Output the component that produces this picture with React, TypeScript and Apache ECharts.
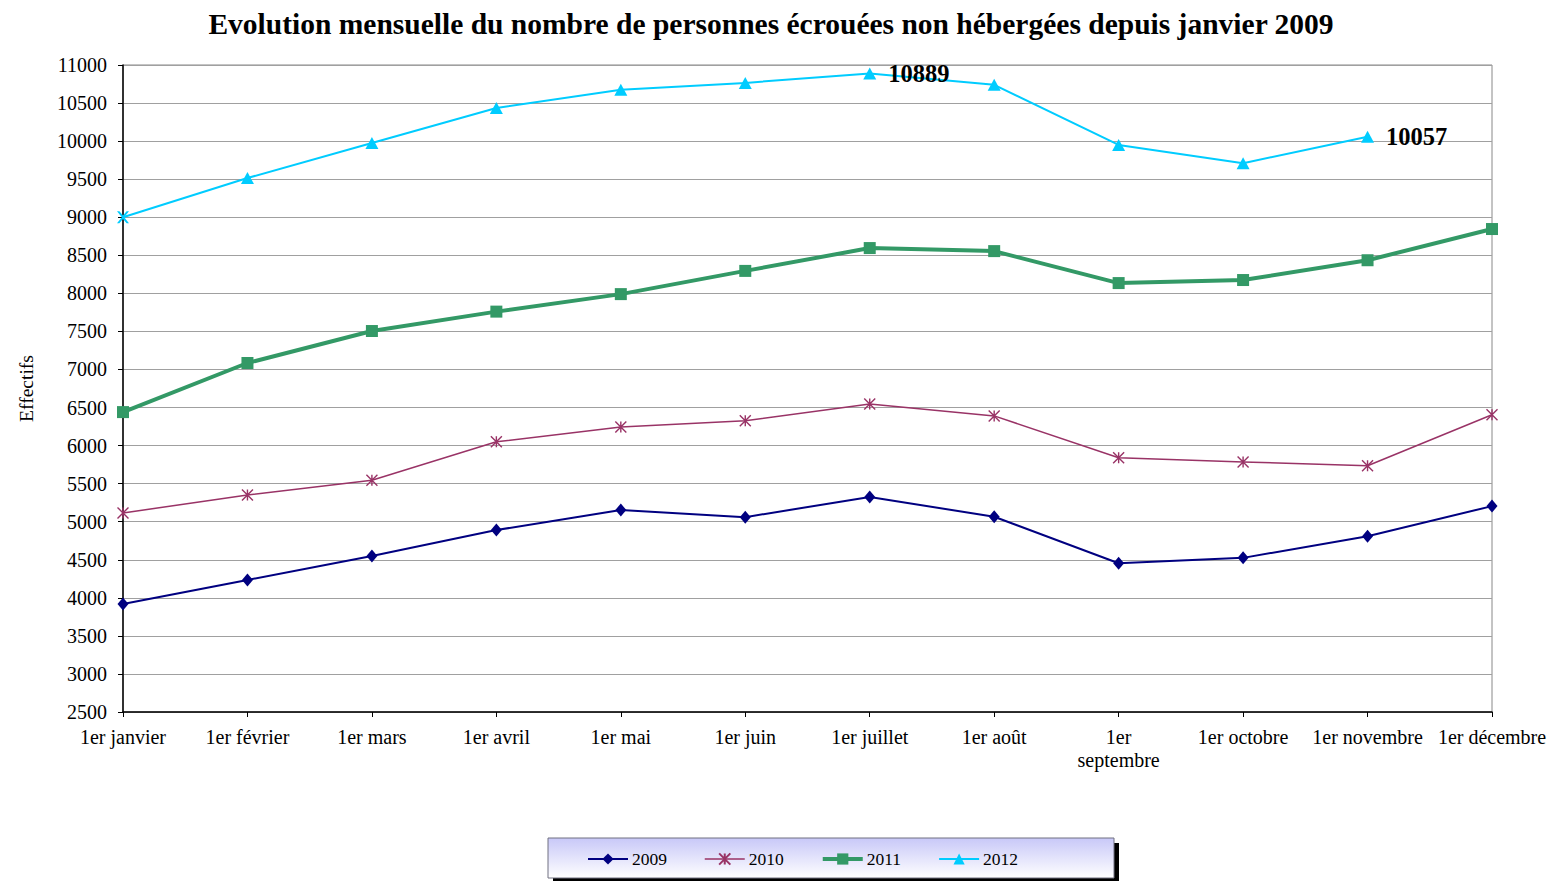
import React, { useEffect, useRef } from "react";
import * as echarts from "echarts";

const months = [
  "1er janvier", "1er février", "1er mars", "1er avril", "1er mai", "1er juin",
  "1er juillet", "1er août", "1er\nseptembre", "1er octobre", "1er novembre", "1er décembre",
];
const v2009 = [3920, 4235, 4550, 4890, 5155, 5060, 5325, 5065, 4455, 4525, 4810, 5205];
const v2010 = [5115, 5350, 5545, 6050, 6245, 6325, 6545, 6390, 5840, 5785, 5735, 6405];
const v2011 = [6440, 7085, 7505, 7760, 7990, 8295, 8595, 8555, 8135, 8175, 8435, 8845];
const v2012 = [9000, 9515, 9975, 10435, 10675, 10765, 10889, 10740, 9950, 9710, 10057, null];
const labelled2012 = [6, 10];
const seriesNames = ["2009", "2010", "2011", "2012"];
const yMin = 2500;
const yMax = 11000;
const yStep = 500;

const FONT = "'Liberation Serif', 'Times New Roman', serif";

export default function App() {
  const ref = useRef<HTMLDivElement>(null);
  useEffect(() => {
    if (!ref.current) return;
    const chart = echarts.init(ref.current, null, { renderer: "svg" });
    const cyan = "#00CCFF";
    const data2012 = v2012.map((v, i) => {
      if (i === 0) {
        return {
          value: v,
          symbol: "path://M0,0L2,0L5,3.6L8,0L10,0L6,5L10,10L8,10L5,6.4L2,10L0,10L4,5Z",
          symbolSize: 12,
        };
      }
      if (labelled2012.includes(i)) {
        return {
          value: v,
          label: {
            show: true,
            position: "right",
            distance: 12,
            formatter: "{c}",
            color: "#000",
            fontFamily: FONT,
            fontWeight: "bold",
            fontSize: 24.5,
          },
        };
      }
      return v;
    });
    const legendWidths = [2, 1.5, 4, 2];
    chart.setOption({
      animation: false,
      backgroundColor: "#fff",
      textStyle: { fontFamily: FONT },
      title: {
        text: "Evolution mensuelle du nombre de personnes écrouées non hébergées depuis janvier 2009",
        left: 766,
        textAlign: "center",
        top: 4,
        textStyle: { fontFamily: FONT, fontWeight: "bold", fontSize: 29.5, color: "#000" },
      },
      grid: {
        left: 123,
        right: 59,
        top: 65,
        bottom: 169,
        show: true,
        borderColor: "#888",
        borderWidth: 1,
        backgroundColor: "transparent",
      },
      graphic: [
        { type: "rect", shape: { x: 553, y: 843, width: 566, height: 39 }, style: { fill: "#000" }, z: 1 },
        {
          type: "rect",
          shape: { x: 548, y: 838, width: 566, height: 40 },
          style: {
            fill: new echarts.graphic.LinearGradient(0, 0, 0, 1, [
              { offset: 0, color: "#c8c8f8" },
              { offset: 1, color: "#ffffff" },
            ]),
            stroke: "#707080",
            lineWidth: 1,
          },
          z: 2,
        },
      ],
      legend: {
        left: 582,
        top: 845,
        itemWidth: 40,
        itemHeight: 14,
        itemGap: 37,
        z: 10,
        textStyle: { fontFamily: FONT, fontSize: 17.5, color: "#000", padding: [2, 0, 0, -1] },
        data: seriesNames.map((n, i) => ({ name: n, lineStyle: { width: legendWidths[i] } })),
      },
      xAxis: {
        type: "category",
        boundaryGap: false,
        data: months,
        axisLine: { lineStyle: { color: "#000", width: 1.5 } },
        axisTick: { show: true, length: 5, lineStyle: { color: "#000" } },
        axisLabel: {
          color: "#000",
          fontFamily: FONT,
          fontSize: 20,
          margin: 13,
          lineHeight: 23,
          interval: 0,
        },
        splitLine: { show: false },
      },
      yAxis: {
        type: "value",
        min: yMin,
        max: yMax,
        interval: yStep,
        name: "Effectifs",
        nameLocation: "middle",
        nameGap: 87,
        nameRotate: 90,
        nameTextStyle: { fontFamily: FONT, fontSize: 19.5, color: "#000" },
        axisLine: { show: true, lineStyle: { color: "#000", width: 1.5 } },
        axisTick: { show: true, length: 5, lineStyle: { color: "#000" } },
        axisLabel: {
          color: "#000",
          fontFamily: FONT,
          fontSize: 20,
          margin: 16,
          formatter: (v: number) => String(v),
        },
        splitLine: { show: true, lineStyle: { color: "#a0a0a0", width: 1 } },
      },
      series: [
        {
          name: seriesNames[0],
          type: "line",
          data: v2009,
          symbol: "diamond",
          symbolSize: [11, 13],
          clip: false,
          color: "#000080",
          lineStyle: { color: "#000080", width: 2 },
          itemStyle: { color: "#000080" },
          z: 3,
        },
        {
          name: seriesNames[1],
          type: "line",
          data: v2010,
          symbol: "path://M0,0L10,10M10,0L0,10M5,0L5,10",
          symbolSize: 11,
          clip: false,
          color: "#993366",
          lineStyle: { color: "#993366", width: 1.5 },
          itemStyle: { color: "none", borderColor: "#993366", borderWidth: 1.4 },
          z: 3,
        },
        {
          name: seriesNames[2],
          type: "line",
          data: v2011,
          symbol: "rect",
          symbolSize: 12,
          clip: false,
          color: "#339966",
          lineStyle: { color: "#339966", width: 4 },
          itemStyle: { color: "#339966" },
          z: 3,
        },
        {
          name: seriesNames[3],
          type: "line",
          data: data2012,
          symbol: "triangle",
          symbolSize: [13, 12],
          clip: false,
          color: cyan,
          lineStyle: { color: cyan, width: 2 },
          itemStyle: { color: cyan },
          z: 3,
        },
      ],
    });
    return () => chart.dispose();
  }, []);
  return (
    <div
      ref={ref}
      style={{ position: "fixed", left: 0, top: 0, width: 1551, height: 881, background: "#fff" }}
    />
  );
}
